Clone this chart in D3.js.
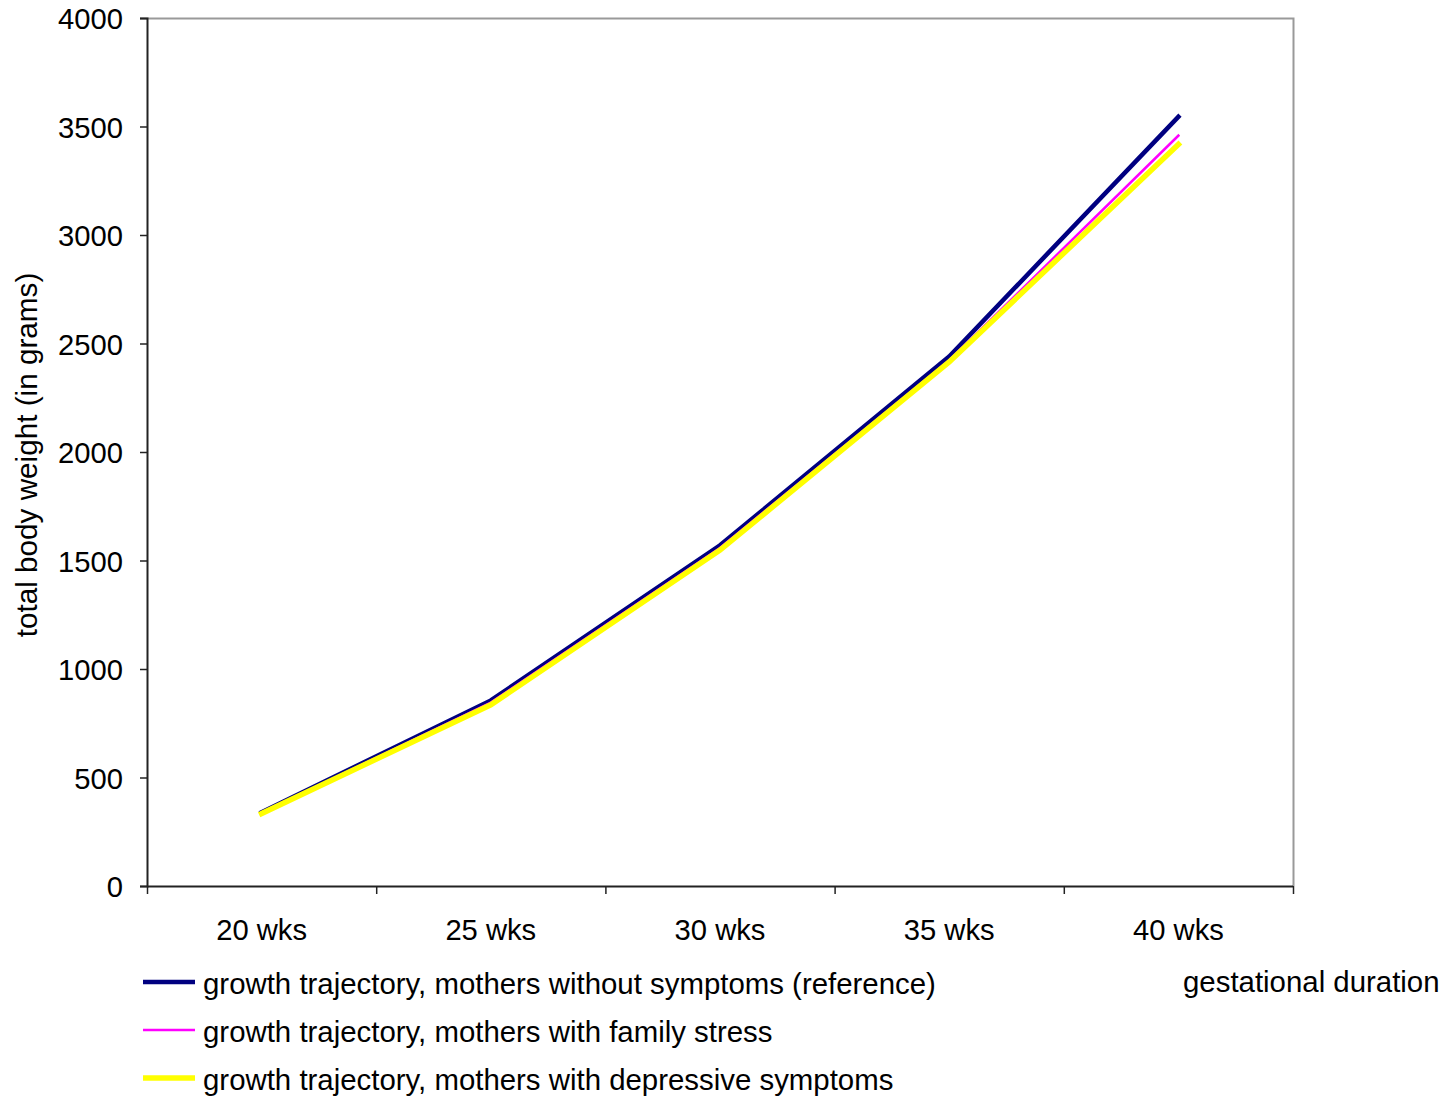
<!DOCTYPE html>
<html><head><meta charset="utf-8">
<script src="https://cdn.jsdelivr.net/npm/d3@7"></script>
<style>body{margin:0;background:#fff}svg{display:block}text{font-family:"Liberation Sans",Arial,sans-serif;fill:#000}</style>
</head><body>
<svg id="c" width="1446" height="1098"></svg>
<script>
const categories = ["20 wks","25 wks","30 wks","35 wks","40 wks"];
const seriesNames = ["growth trajectory, mothers without symptoms (reference)","growth trajectory, mothers with family stress","growth trajectory, mothers with depressive symptoms"];
const noSymptoms = [340, 855, 1570, 2440, 3545];
const familyStress = [336, 845, 1558, 2422, 3458];
const depressive = [334, 835, 1548, 2415, 3418];
const yTicks = [0,500,1000,1500,2000,2500,3000,3500,4000];
const colors = ["#000080","#ff00ff","#ffff00"];
const widths = [4.5, 2.5, 5.5];

const svg = d3.select("#c");
const L=147,R=1293,T=18,B=886;
const FS=29.2;
const x = d3.scaleBand().domain(categories).range([L,R]);
const y = d3.scaleLinear().domain([0,4000]).range([B,T]);

svg.append("path").attr("d",`M${L},${T+0.5}H${R+0.5}V${B}`).attr("fill","none").attr("stroke","#999").attr("stroke-width",2);

const series=[noSymptoms,familyStress,depressive];
const line=d3.line().x((d,i)=>x(categories[i])+x.bandwidth()/2).y(d=>y(d));
series.forEach((s,k)=>{
  svg.append("path").datum(s).attr("d",line).attr("fill","none")
    .attr("stroke",colors[k]).attr("stroke-width",widths[k]).attr("stroke-linejoin","miter").attr("stroke-linecap","square");
});

const ya=svg.append("g").attr("transform",`translate(${L},0)`).call(d3.axisLeft(y).tickValues(yTicks).tickSize(7).tickPadding(17).tickFormat(d3.format("d")));
ya.select(".domain").attr("stroke","#222").attr("stroke-width",2);
ya.selectAll(".tick line").attr("stroke","#222").attr("stroke-width",1.5);
ya.selectAll("text").attr("font-size",FS).attr("dy","0.36em").attr("font-family","Liberation Sans, Arial, sans-serif");

const xa=svg.append("g").attr("transform",`translate(0,${B})`).call(d3.axisBottom(x).tickSize(0).tickPadding(0));
xa.select(".domain").attr("stroke","#222").attr("stroke-width",2).attr("d",`M${L},0.5H${R}`);
xa.selectAll(".tick text").attr("font-size",FS).attr("y",54).attr("dy",0).attr("font-family","Liberation Sans, Arial, sans-serif");
const bounds=categories.map(c=>x(c)).concat([R]);
svg.append("g").selectAll("line").data(bounds).join("line")
  .attr("x1",d=>d+0.5).attr("x2",d=>d+0.5).attr("y1",B).attr("y2",B+8).attr("stroke","#222").attr("stroke-width",1.5);

svg.append("text").attr("transform","translate(37,455) rotate(-90)").attr("text-anchor","middle").attr("font-size",FS+0.5).text("total body weight (in grams)");
svg.append("text").attr("x",1183).attr("y",992).attr("font-size",FS+0.2).text("gestational duration");

const lg=svg.append("g");
seriesNames.forEach((n,k)=>{
  const yy=982+k*48;
  lg.append("line").attr("x1",143).attr("x2",195).attr("y1",yy).attr("y2",yy).attr("stroke",colors[k]).attr("stroke-width",widths[k]);
  lg.append("text").attr("x",203).attr("y",yy+12).attr("font-size",FS+0.2).text(n);
});
</script>
</body></html>
